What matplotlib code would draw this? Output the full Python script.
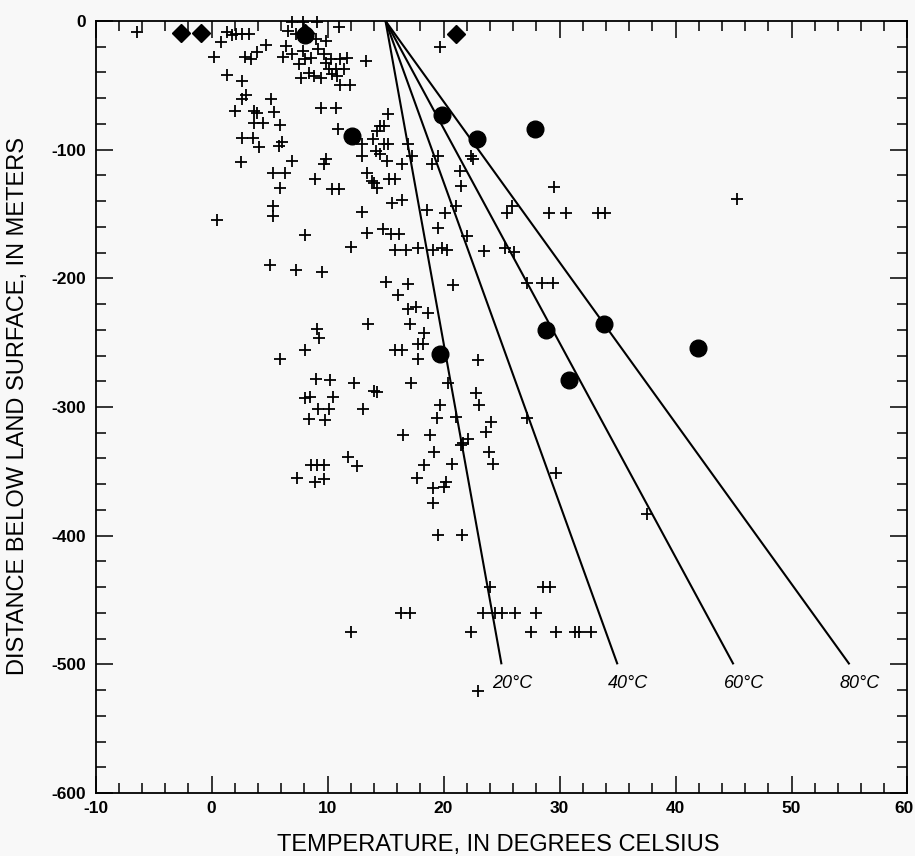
import matplotlib
matplotlib.use("Agg")
import matplotlib.pyplot as plt
from matplotlib.ticker import MultipleLocator
from matplotlib.transforms import ScaledTranslation

plt.rcParams['font.family'] = ['Liberation Sans', 'DejaVu Sans']
plt.rcParams['axes.unicode_minus'] = False

# ---- data (temperature in deg C, depth in m, negative below surface) ----
plus_temp = [
    -6.4, 1.3, 1.8, 2.1, 2.6, 3.2, 0.8, 0.2, 2.9, 3.4, 3.9, 4.7, 1.3, 2.6, 3.0, 2.6, 5.1,
    6.9, 7.9, 9.1, 6.6, 7.3, 9.0, 9.9, 11.0, 6.4, 6.2, 6.9, 7.9, 9.2, 9.7, 7.5, 8.1, 8.6,
    8.4, 8.8, 9.4, 7.7, 9.9, 10.3, 11.1, 11.7, 10.7, 10.1, 11.4, 10.4, 10.8, 11.1, 11.9,
    13.3, 19.7,
    2.0, 3.7, 3.9, 5.4, 3.7, 4.4, 5.9, 2.6, 3.6, 4.1, 5.8, 6.1, 2.5, 6.9, 5.3, 6.3, 5.9,
    8.9, 9.7, 9.9, 10.4, 11.0, 9.4, 10.7, 10.9, 15.2, 14.5, 14.9, 14.3, 13.9, 13.0, 14.9,
    15.2, 14.2, 14.5, 13.0, 15.1, 16.4, 16.9, 17.3, 13.4, 13.8, 14.0, 14.3, 15.3, 15.8,
    19.0, 19.5, 22.4, 22.5, 21.4, 21.5, 29.5, 45.3,
    5.3, 5.3, 0.5, 8.1, 13.0, 15.6, 16.4, 18.6, 20.1, 21.1, 19.5, 13.4, 14.8, 15.5, 16.2,
    12.0, 15.8, 16.8, 17.8, 19.1, 19.9, 20.3, 22.0, 23.5, 25.3, 26.1, 25.5, 25.9, 29.1,
    30.6, 33.3, 33.9, 5.0, 7.3, 9.5, 15.0, 16.9, 20.8, 27.2, 28.5, 29.4, 16.1,
    16.9, 17.6, 18.7, 13.5, 9.1, 9.3, 17.1, 18.3, 17.8, 18.2, 8.1, 5.9, 15.8, 16.4, 17.8,
    23.0, 9.0, 10.2, 12.3, 17.2, 20.4, 14.0, 14.3, 22.8, 8.5, 10.5, 8.1,
    9.2, 10.1, 13.1, 8.4, 9.8, 19.7, 23.1, 19.4, 21.1, 24.1, 27.2, 23.7, 16.5, 18.8, 22.1,
    21.7, 21.5, 19.2, 23.9, 11.8, 12.5, 8.6, 9.1, 9.7, 18.3, 20.7, 24.3, 7.4, 8.9, 9.7,
    17.7, 19.1, 20.0, 20.2, 29.7, 19.1,
    37.5, 19.5, 21.6, 24.0, 28.6, 29.2, 23.4, 24.4, 25.0, 26.2, 28.0, 22.4, 27.5, 29.7,
    31.3, 31.7, 32.7, 23.0, 12.0, 16.3, 17.1,
]
plus_depth = [
    -8.5, -8.5, -10.9, -10.1, -10.1, -10.1, -16.3, -27.9, -27.9, -29.5, -24.1, -18.6,
    -41.9, -46.6, -57.4, -60.5, -60.5,
    -0.8, -0.8, -0.8, -7.8, -10.1, -14.0, -15.5, -4.7, -19.4, -27.9, -25.6, -23.3, -21.7,
    -25.6, -33.4, -29.5, -28.7, -40.4, -42.7, -44.2, -44.2, -32.6, -29.5, -29.5, -28.7,
    -37.3, -37.3, -37.3, -41.1, -42.7, -49.7, -49.7, -31.0, -20.2,
    -69.9, -69.9, -71.4, -70.6, -79.2, -79.2, -80.7, -90.8, -90.8, -97.8, -97.0, -93.9,
    -109.4, -108.7, -118.0, -118.0, -129.6, -122.6, -111.0, -107.1, -130.4, -130.4,
    -67.5, -67.5, -83.8, -72.2, -81.5, -81.5, -85.4, -91.6, -95.5, -95.5, -95.5, -100.9,
    -103.2, -104.8, -108.7, -111.0, -95.5, -104.8, -118.0, -124.2, -125.7, -129.6,
    -122.6, -122.6, -111.0, -104.8, -104.8, -107.1, -116.4, -128.1, -128.9, -138.2,
    -143.6, -151.4, -154.5, -166.1, -148.3, -141.3, -138.9, -146.7, -149.0, -143.6,
    -160.7, -164.6, -161.5, -165.3, -165.3, -175.4, -177.8, -177.8, -176.2, -177.8,
    -176.2, -177.8, -166.9, -178.5, -176.2, -179.3, -149.0, -143.6, -149.0, -149.0,
    -149.0, -149.0, -189.4, -193.3, -194.8, -202.6, -204.1, -204.9, -203.4, -203.4,
    -203.4, -212.7,
    -223.5, -222.0, -226.7, -235.2, -239.1, -246.1, -235.2, -242.2, -250.7, -250.7,
    -255.4, -262.4, -256.1, -256.1, -262.4, -263.1, -277.9, -279.4, -281.0, -281.0,
    -281.0, -287.2, -288.0, -289.5, -292.6, -291.9, -293.4,
    -301.2, -301.2, -301.2, -309.7, -310.5, -298.8, -298.1, -308.2, -307.4, -312.0,
    -308.2, -319.8, -322.1, -322.1, -324.5, -328.3, -329.9, -335.3, -335.3, -339.2,
    -346.2, -345.4, -345.4, -345.4, -345.4, -344.6, -344.6, -355.5, -358.6, -356.3,
    -355.5, -363.3, -362.5, -358.6, -351.6, -374.9,
    -383.4, -399.7, -399.7, -440.1, -440.1, -440.1, -460.3, -460.3, -460.3, -460.3,
    -460.3, -475.0, -475.0, -475.0, -475.0, -475.0, -475.0, -520.8, -475.0, -460.3,
    -460.3,
]

circle_temp = [8.1, 12.1, 19.9, 22.9, 27.9, 28.8, 33.8, 41.9, 30.8, 19.7]
circle_depth = [-11, -89.3, -73.0, -91.6, -83.8, -239.8, -235.2, -253.8, -279.4, -258.5]

diamond_temp = [-2.6, -0.9, 8.1, 21.1]
diamond_depth = [-9.3, -9.3, -9.3, -10.1]

# geothermal gradient lines (20, 40, 60, 80 deg C per km from 15 deg C surface)
surface_temp = 15
line_end_temp = [25, 35, 45, 55]
line_end_depth = -500
line_labels = ['20°C', '40°C', '60°C', '80°C']

x_ticks = [-10, 0, 10, 20, 30, 40, 50, 60]
y_ticks = [-600, -500, -400, -300, -200, -100, 0]

bg = '#f8f8f8'
fig = plt.figure(figsize=(9.15, 8.56), dpi=100, facecolor=bg)
ax = fig.add_axes([0.1044, 0.0736, 0.8874, 0.9019])
ax.set_facecolor(bg)

for t, lab in zip(line_end_temp, line_labels):
    ax.plot([surface_temp, t], [0, line_end_depth], color='black', lw=1.5,
            solid_capstyle='butt')
    ax.text(t + 0.9, line_end_depth - 15, lab, style='italic', fontsize=13,
            ha='center', va='center')

ax.plot(plus_temp, plus_depth, ls='none', marker='+', ms=8.5, mew=1.3,
        color='black', clip_on=False, zorder=3)
ax.plot(circle_temp, circle_depth, ls='none', marker='o', ms=12,
        color='black', zorder=4)
ax.plot(diamond_temp, diamond_depth, ls='none', marker='D', ms=9,
        color='black', clip_on=False, zorder=4)

ax.set_xlim(-10, 60)
ax.set_ylim(-600, 0)
ax.set_xticks(x_ticks)
ax.set_yticks(y_ticks)
ax.set_xticklabels([str(v) for v in x_ticks])
ax.set_yticklabels([str(v) for v in y_ticks])
ax.xaxis.set_minor_locator(MultipleLocator(2))
ax.yaxis.set_minor_locator(MultipleLocator(20))
ax.tick_params(which='both', direction='in', top=True, right=True,
               width=1.1, color='black')
ax.tick_params(which='major', length=12.5)
ax.tick_params(which='minor', length=7)
ax.tick_params(axis='x', pad=6, labelsize=12.5)
ax.tick_params(axis='y', pad=7, labelsize=12.5)
for lab in ax.get_xticklabels() + ax.get_yticklabels():
    lab.set_fontweight('bold')
# keep the last x tick label inside the picture
last = ax.get_xticklabels()[-1]
last.set_transform(last.get_transform() + ScaledTranslation(-3 / 100, 0, fig.dpi_scale_trans))
for s in ax.spines.values():
    s.set_linewidth(1.3)

fig.text(498 / 915, 1 - 845 / 856, 'TEMPERATURE, IN DEGREES CELSIUS',
         fontsize=17, ha='center', va='center')
fig.text(18 / 915, 1 - 406 / 856, 'DISTANCE BELOW LAND SURFACE, IN METERS',
         fontsize=17, ha='center', va='center', rotation=90)

fig.savefig('out.png', dpi=100, facecolor=bg)
